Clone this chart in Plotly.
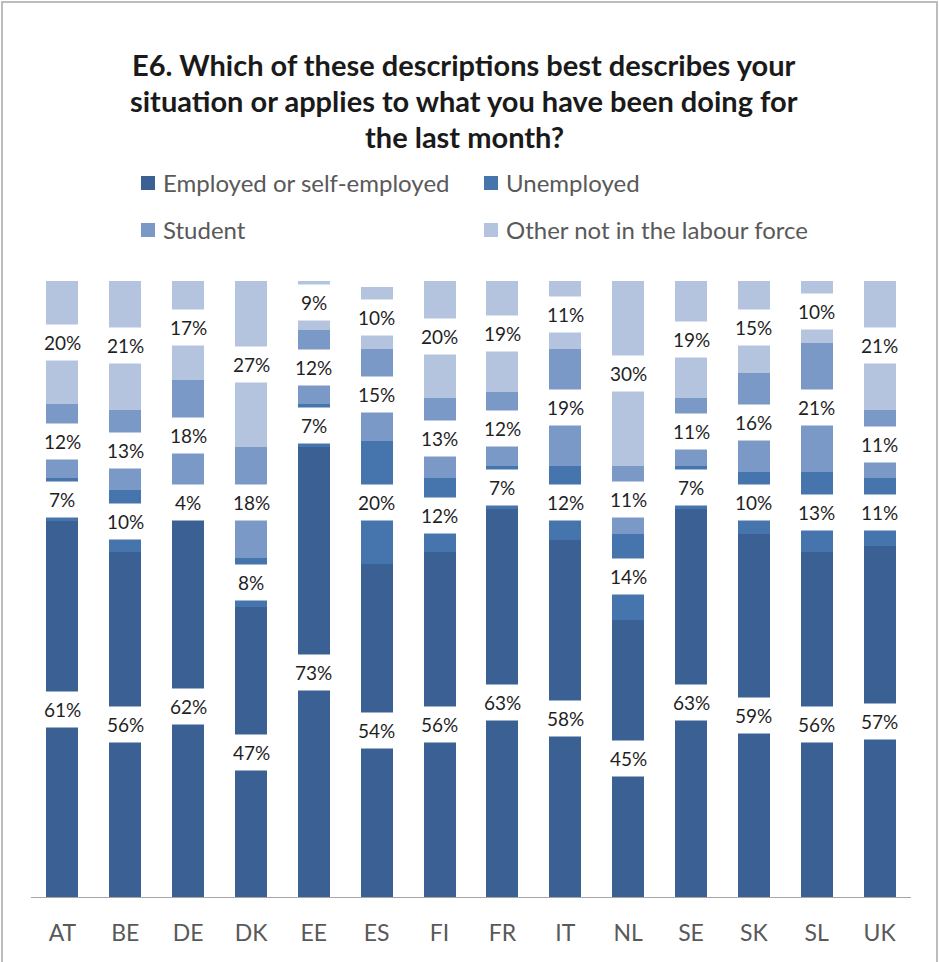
import plotly.graph_objects as go

# Survey shares (%) per country, stacked bottom to top
countries = ["AT", "BE", "DE", "DK", "EE", "ES", "FI", "FR", "IT", "NL", "SE", "SK", "SL", "UK"]
employed = [61, 56, 62, 47, 73, 54, 56, 63, 58, 45, 63, 59, 56, 57]
unemployed = [7, 10, 4, 8, 7, 20, 12, 7, 12, 14, 7, 10, 13, 11]
student = [12, 13, 18, 18, 12, 15, 13, 12, 19, 11, 11, 16, 21, 11]
other = [20, 21, 17, 27, 9, 10, 20, 19, 11, 30, 19, 15, 10, 21]

series_names = ["Employed or self-employed", "Unemployed", "Student", "Other not in the labour force"]
series_values = [employed, unemployed, student, other]
colors = ["#3B6194", "#4674AD", "#7B99C7", "#B4C4DF"]

title_lines = [
    "E6. Which of these descriptions best describes your",
    "situation or applies to what you have been doing for",
    "the last month?",
]

W, H = 939, 962
ML, MR, MT, MB = 31, 28, 281, 65
PW, PH = W - ML - MR, H - MT - MB


def px_x(px):
    return (px - ML) / PW


def px_y(py):
    return (H - MB - py) / PH


FONT = "Lato"

fig = go.Figure()
for name, vals, col in zip(series_names, series_values, colors):
    fig.add_trace(go.Bar(
        x=countries, y=vals, name=name,
        marker=dict(color=col, line=dict(width=0)),
        showlegend=False, hoverinfo="x+y+name",
    ))

annotations = []

# Value labels centred on each segment, on white boxes
base = [0] * len(countries)
for vals in series_values:
    for i, (c, v) in enumerate(zip(countries, vals)):
        annotations.append(dict(
            x=c, y=base[i] + v / 2, xref="x", yref="y",
            text=f"{v}%", showarrow=False,
            font=dict(family=FONT, size=19, color="#1F1F1F"),
            bgcolor="white", borderpad=6,
        ))
        base[i] += v

# Title, one annotation per line
for line, py in zip(title_lines, [64, 100, 137]):
    annotations.append(dict(
        x=px_x(464), y=px_y(py), xref="paper", yref="paper",
        text=f"<b>{line}</b>", showarrow=False,
        xanchor="center", yanchor="middle",
        font=dict(family=FONT, size=29, color="#1A1A1A"),
    ))

# Legend: two rows of two entries
shapes = []
legend_pos = [(141, 183), (484, 183), (141, 230), (484, 230)]
for name, col, (lx, ly) in zip(series_names, colors, legend_pos):
    shapes.append(dict(
        type="rect", xref="paper", yref="paper",
        x0=px_x(lx), x1=px_x(lx + 14), y0=px_y(ly + 7), y1=px_y(ly - 7),
        fillcolor=col, line=dict(width=0),
    ))
    annotations.append(dict(
        x=px_x(lx + 20), y=px_y(ly), xref="paper", yref="paper",
        text=name, showarrow=False, xanchor="left", yanchor="middle",
        font=dict(family=FONT, size=24, color="#595959"),
    ))

# Chart-area frame
shapes.append(dict(
    type="rect", xref="paper", yref="paper",
    x0=px_x(2), x1=px_x(937), y0=px_y(975), y1=px_y(2),
    line=dict(color="#BDBDBD", width=2), fillcolor="rgba(0,0,0,0)",
    layer="below",
))

fig.update_layout(
    width=W, height=H,
    margin=dict(l=ML, r=MR, t=MT, b=MB, autoexpand=False),
    paper_bgcolor="white", plot_bgcolor="white",
    barmode="stack", bargap=0.49,
    font=dict(family=FONT),
    annotations=annotations, shapes=shapes,
    xaxis=dict(
        type="category", showline=True, linecolor="#A6A6A6", linewidth=1,
        ticks="", showgrid=False, zeroline=False,
        tickfont=dict(family=FONT, size=23, color="#595959"),
        ticklabelstandoff=15, fixedrange=True,
    ),
    yaxis=dict(visible=False, range=[0, 100], fixedrange=True),
)

fig.write_html("out.html", config={"displayModeBar": False})
